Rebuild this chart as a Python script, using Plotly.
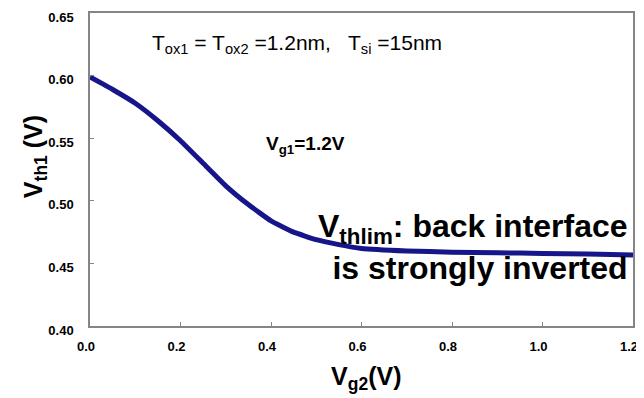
import plotly.graph_objects as go

vg2 = [0.0, 0.05, 0.1, 0.15, 0.2, 0.25, 0.3, 0.35, 0.4, 0.45, 0.5, 0.55, 0.6, 0.7, 0.8, 0.9, 1.0, 1.1, 1.2]
vth1 = [0.599, 0.589, 0.578, 0.564, 0.548, 0.530, 0.512, 0.497, 0.484, 0.475, 0.469, 0.465, 0.462,
        0.460, 0.459, 0.4585, 0.458, 0.4575, 0.4567]

x_ticks = [0.0, 0.2, 0.4, 0.6, 0.8, 1.0, 1.2]
x_tick_labels = ["0.0", "0.2", "0.4", "0.6", "0.8", "1.0", "1.2"]
y_ticks = [0.40, 0.45, 0.50, 0.55, 0.60, 0.65]
y_tick_labels = ["0.40", "0.45", "0.50", "0.55", "0.60", "0.65"]

FONT = "Arial, Liberation Sans, sans-serif"

fig = go.Figure()
fig.add_trace(go.Scatter(x=vg2, y=vth1, mode="lines",
                         line=dict(color="#16168a", width=5, shape="spline", smoothing=0.3),
                         showlegend=False, hoverinfo="skip"))

axis_common = dict(showline=True, linecolor="#858585", linewidth=1.5, mirror=True,
                   ticks="inside", ticklen=4, tickcolor="#858585", showgrid=False,
                   zeroline=False, automargin=False, ticklabeloverflow="allow",
                   tickfont=dict(family=FONT, size=13, color="black", weight="bold"))

fig.update_xaxes(range=[0, 1.2], tickvals=x_ticks, ticktext=x_tick_labels,
                 ticklabelstandoff=8, ticklabelshift=-4, **axis_common)
fig.update_yaxes(range=[0.40, 0.6501], tickvals=y_ticks, ticktext=y_tick_labels,
                 ticklabelstandoff=12, ticklabelshift=4, **axis_common)

annotations = [
    dict(text="T<sub>ox1</sub> = T<sub>ox2</sub> =1.2nm,   T<sub>si</sub> =15nm",
         x=0.132, y=0.625, xref="x", yref="y", xanchor="left", yanchor="middle",
         showarrow=False, font=dict(family=FONT, size=21, color="black")),
    dict(text="<b>V<sub>g1</sub>=1.2V</b>",
         x=0.385, y=0.5446, xref="x", yref="y", xanchor="left", yanchor="middle",
         showarrow=False, font=dict(family=FONT, size=19, color="black")),
    dict(text="<b>V<sub>thlim</sub>: back interface<br>is strongly inverted</b>",
         x=1.193, y=0.463, xref="x", yref="y", xanchor="right", yanchor="middle", align="right",
         showarrow=False, font=dict(family=FONT, size=32, color="black")),
    dict(text="<b>V<sub>th1</sub> (V)</b>", textangle=-90,
         x=-0.101, y=0.54, xref="paper", yref="paper", xanchor="center", yanchor="middle",
         showarrow=False, font=dict(family=FONT, size=25, color="black")),
    dict(text="<b>V<sub>g2</sub>(V)</b>",
         x=0.508, y=-0.166, xref="paper", yref="paper", xanchor="center", yanchor="middle",
         showarrow=False, font=dict(family=FONT, size=25, color="black")),
]

fig.update_layout(width=636, height=390, margin=dict(l=82, r=11, t=5, b=72),
                  paper_bgcolor="white", plot_bgcolor="white", annotations=annotations)

fig.write_html("out.html")
